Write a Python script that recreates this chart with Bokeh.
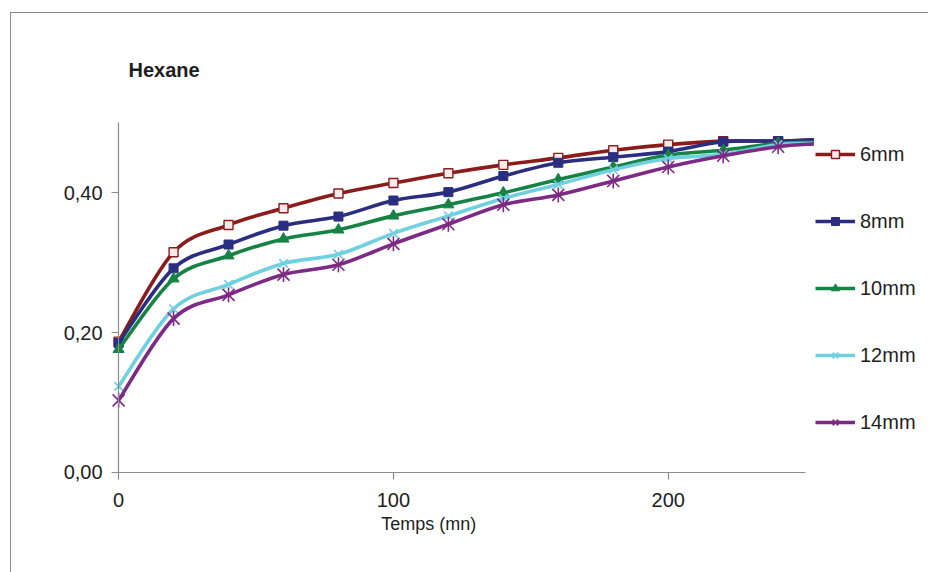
import numpy as np
from bokeh.plotting import figure
from bokeh.models import (Range1d, FixedTicker, Legend, LegendItem, Label,
                          CustomJSTickFormatter, LinearAxis)
from bokeh.embed import file_html
from bokeh.resources import INLINE

# ---- data ----
time_mn = [0, 20, 40, 60, 80, 100, 120, 140, 160, 180, 200, 220, 240, 253]
s6mm = [0.187, 0.315, 0.354, 0.378, 0.399, 0.414, 0.428, 0.440, 0.450, 0.461, 0.469, 0.474, 0.474, 0.476]
s8mm = [0.185, 0.292, 0.326, 0.353, 0.366, 0.389, 0.401, 0.424, 0.443, 0.451, 0.459, 0.473, 0.474, 0.476]
s10mm = [0.176, 0.277, 0.310, 0.334, 0.347, 0.367, 0.383, 0.400, 0.419, 0.437, 0.454, 0.461, 0.471, 0.472]
s12mm = [0.123, 0.234, 0.269, 0.299, 0.312, 0.342, 0.367, 0.392, 0.412, 0.433, 0.449, 0.455, 0.469, 0.471]
s14mm = [0.103, 0.220, 0.254, 0.283, 0.297, 0.327, 0.355, 0.383, 0.397, 0.417, 0.437, 0.453, 0.466, 0.470]
series_names = ["6mm", "8mm", "10mm", "12mm", "14mm"]
x_ticks = [0, 100, 200]
y_ticks = [0.0, 0.2, 0.4]
title_text = "Hexane"
x_title = "Temps (mn)"

FONT = "Liberation Sans"
AXIS_GREY = "#8c8c8c"
TEXT = "#1e1e1e"

# canvas geometry (page pixels): canvas starts at (11, 13) inside a grey border
CX0, CY0 = 11, 13
CW, CH = 917, 559
# axis anchors in page pixels
X0_PX, PX_PER_X = 118.0, 2.745      # x = 0 at 118, 200 at 667
Y0_PX, PX_PER_Y = 471.0, 697.5      # y = 0 at 471, 0.5 at 122

x_lo = (CX0 - X0_PX) / PX_PER_X
x_hi = (CX0 + CW - X0_PX) / PX_PER_X
y_lo = (Y0_PX - (CY0 + CH)) / PX_PER_Y
y_hi = (Y0_PX - CY0) / PX_PER_Y

p = figure(width=918, height=560, margin=(12, 0, 0, 10),
           output_backend="svg", toolbar_location=None,
           x_range=Range1d(x_lo, x_hi), y_range=Range1d(y_lo, y_hi),
           min_border=0, min_border_left=0, min_border_right=0,
           min_border_top=0, min_border_bottom=0,
           x_axis_type=None, y_axis_type=None)
p.styles = {"border-top": "1px solid #8c8c8c", "border-left": "1px solid #8c8c8c",
            "box-sizing": "border-box"}
p.grid.visible = False
p.outline_line_color = None
p.background_fill_color = "white"
p.border_fill_color = "white"

xaxis = LinearAxis(ticker=FixedTicker(ticks=x_ticks), bounds=(0, 250), fixed_location=0)
yaxis = LinearAxis(ticker=FixedTicker(ticks=y_ticks), bounds=(0, 0.5), fixed_location=0,
                   formatter=CustomJSTickFormatter(code="return tick.toFixed(2).replace('.', ',');"))
for ax in (xaxis, yaxis):
    ax.axis_line_color = AXIS_GREY
    ax.axis_line_width = 1.2
    ax.major_tick_line_color = AXIS_GREY
    ax.major_tick_line_width = 1.2
    ax.minor_tick_line_color = None
    ax.major_tick_in = 0
    ax.major_tick_out = 7
    ax.major_label_text_font = FONT
    ax.major_label_text_font_size = "20px"
    ax.major_label_text_color = TEXT
xaxis.major_label_standoff = 14
yaxis.major_label_standoff = 9
p.add_layout(xaxis, "below")
p.add_layout(yaxis, "left")


def bezier_segments(xs, ys):
    xs = np.asarray(xs, float)
    ys = np.asarray(ys, float)
    n = len(xs)
    out = {k: [] for k in ("x0", "y0", "x1", "y1", "cx0", "cy0", "cx1", "cy1")}
    for i in range(n - 1):
        im1 = max(i - 1, 0)
        ip2 = min(i + 2, n - 1)
        out["x0"].append(xs[i]); out["y0"].append(ys[i])
        out["x1"].append(xs[i + 1]); out["y1"].append(ys[i + 1])
        out["cx0"].append(xs[i] + (xs[i + 1] - xs[im1]) / 6.0)
        out["cy0"].append(ys[i] + (ys[i + 1] - ys[im1]) / 6.0)
        out["cx1"].append(xs[i + 1] - (xs[ip2] - xs[i]) / 6.0)
        out["cy1"].append(ys[i + 1] - (ys[ip2] - ys[i]) / 6.0)
    return out


colors = ["#8b1c1c", "#2b2e80", "#168244", "#6fd0df", "#7c2a84"]
all_series = [s6mm, s8mm, s10mm, s12mm, s14mm]
# the last reading is where the curve leaves the plot area: no marker there
mx = time_mn[:-1]
items = []
for name, ys, col in zip(series_names, all_series, colors):
    seg = bezier_segments(time_mn, ys)
    lr = p.bezier(line_color=col, line_width=3.6, **seg)
    my = ys[:-1]
    rends = [lr]
    if name == "6mm":
        rends.append(p.scatter(mx, my, marker="square", size=9, line_color=col,
                               fill_color="#fbeaea", line_width=1.4))
    elif name == "8mm":
        rends.append(p.scatter(mx, my, marker="square", size=9, line_color=col,
                               fill_color=col))
    elif name == "10mm":
        rends.append(p.scatter(mx, my, marker="triangle", size=11, line_color=col,
                               fill_color=col))
    elif name == "12mm":
        rends.append(p.scatter(mx, my, marker="x", size=12, line_color=col,
                               line_width=1.6))
    else:
        rends.append(p.scatter(mx, my, marker="x", size=17, line_color=col,
                               line_width=1.6))
        rends.append(p.scatter(mx, my, marker="dash", size=15, angle=np.pi / 2,
                               line_color=col, line_width=1.6))
    items.append(LegendItem(label=name, renderers=rends))

# legend / labels positions: screen offsets from the canvas bottom-left
legend = Legend(items=items, location=(815 - CX0, (CY0 + CH) - 432.5),
                orientation="vertical",
                glyph_width=40, glyph_height=20, label_height=20, label_width=40,
                spacing=44, padding=0, margin=0, label_standoff=5,
                border_line_color=None, background_fill_alpha=0,
                label_text_font=FONT, label_text_font_size="20px",
                label_text_color=TEXT)
p.add_layout(legend)

p.add_layout(Label(x=128 - CX0, y=(CY0 + CH) - 68.3, x_units="screen", y_units="screen",
                   text=title_text, text_font=FONT, text_font_size="20px",
                   text_font_style="bold", text_color=TEXT,
                   text_baseline="alphabetic"))
p.add_layout(Label(x=380.7 - CX0, y=(CY0 + CH) - 522.7, x_units="screen", y_units="screen",
                   text=x_title, text_font=FONT, text_font_size="18px",
                   text_color=TEXT, text_baseline="alphabetic"))

open("out.html", "w").write(file_html(p, INLINE))
